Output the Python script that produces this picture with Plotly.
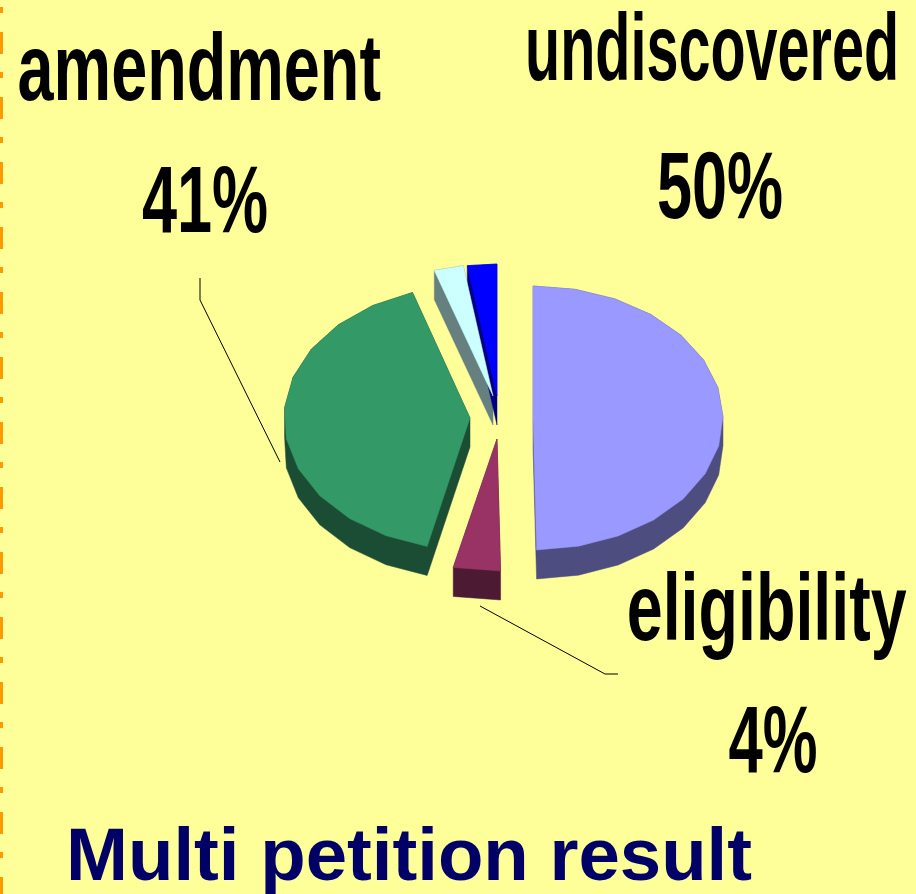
import math
import plotly.graph_objects as go

# Data
categories = ["undiscovered", "eligibility", "amendment", "other a", "other b"]
values = [49.7, 4.0, 41.3, 2.5, 2.5]
label_texts = ["amendment", "41%", "undiscovered", "50%", "eligibility", "4%"]
title_text = "Multi petition result"

# Style / layout
top_colors = ["#9999ff", "#993366", "#339966", "#ccffff", "#0000ff"]
side_colors = ["#4d4d80", "#4d1a33", "#1a4d33", "#668080", "#000080"]
tips = [(533, 418), (497, 439), (470, 418), (493, 396), (497, 396)]
radii_x = [190, 190, 186, 190, 190]
RY, DEPTH, STEP = 132, 29, 13.0
BG = "#ffff99"


def hull(points):
    pts = sorted(set(points))
    def half(seq):
        out = []
        for p in seq:
            while len(out) > 1 and (out[-1][0] - out[-2][0]) * (p[1] - out[-2][1]) - (out[-1][1] - out[-2][1]) * (p[0] - out[-2][0]) <= 0:
                out.pop()
            out.append(p)
        return out[:-1]
    return half(pts) + half(pts[::-1])


fig = go.Figure()
start = 0.0
total = sum(values)
tops = []
for val, tip, rx in zip(values, tips, radii_x):
    sweep = val / total * 360
    n = max(1, round(sweep / STEP))
    pts = [tip]
    for i in range(n + 1):
        t = math.radians(start + sweep * i / n)
        pts.append((tip[0] + rx * math.sin(t), max(264, tip[1] - RY * math.cos(t))))
    tops.append(pts)
    start += sweep

for pts, col in zip(tops, side_colors):
    h = hull(pts + [(p[0], p[1] + DEPTH) for p in pts])
    h.append(h[0])
    fig.add_trace(go.Scatter(x=[p[0] for p in h], y=[p[1] for p in h], mode="lines", fill="toself", fillcolor=col,
                             line=dict(color=col, width=0.5), hoverinfo="skip", showlegend=False))
for pts, col, name in zip(tops, top_colors, categories):
    fig.add_trace(go.Scatter(x=[p[0] for p in pts] + [pts[0][0]], y=[p[1] for p in pts] + [pts[0][1]],
                             mode="lines", fill="toself", fillcolor=col, name=name,
                             line=dict(color=col, width=0.5), hoverinfo="skip", showlegend=False))

label_pos = [(199, 66), (205, 198), (712, 46), (720, 184), (766, 606), (773, 738)]
anns = [dict(x=p[0], y=p[1], text=t, showarrow=False, xanchor="center", yanchor="middle",
             font=dict(family="Liberation Sans Narrow, Liberation Sans", size=76, color="#000000", weight="bold"))
        for t, p in zip(label_texts, label_pos)]
anns.append(dict(x=409, y=854, text=title_text, showarrow=False, xanchor="center", yanchor="middle",
                 font=dict(family="Liberation Sans", size=74.4, color="#000066", weight="bold")))

shapes = [
    dict(type="line", x0=1.5, x1=1.5, y0=7, y1=894, line=dict(color="#ff9900", width=3, dash="6px,19px,22px,18px")),
    dict(type="path", path="M200,278 L200,300 L280,462", line=dict(color="#000000", width=1)),
    dict(type="path", path="M480,606 L605,674 L618,674", line=dict(color="#000000", width=1)),
]
fig.update_layout(width=916, height=894, margin=dict(l=0, r=0, t=0, b=0), autosize=False,
                  paper_bgcolor=BG, plot_bgcolor=BG, showlegend=False, annotations=anns, shapes=shapes,
                  xaxis=dict(range=[0, 916], visible=False, fixedrange=True),
                  yaxis=dict(range=[894, 0], visible=False, fixedrange=True))

post = """
document.documentElement.style.margin='0';document.body.style.margin='0';document.body.style.overflow='hidden';
var sx=[0.852,0.83,0.757,0.83,0.85,0.81], sy=[1.25,1.25,1.25,1.25,1.25,1.25];
var el=document.querySelectorAll('.annotation text');
for(var i=0;i<sx.length&&i<el.length;i++){
 el[i].style.transformBox='fill-box';el[i].style.transformOrigin='center';
 el[i].style.transform='scale('+sx[i]+','+sy[i]+')';
}
"""
fig.write_html("out.html", post_script=post, config=dict(displayModeBar=False),
               default_width="916px", default_height="894px")
